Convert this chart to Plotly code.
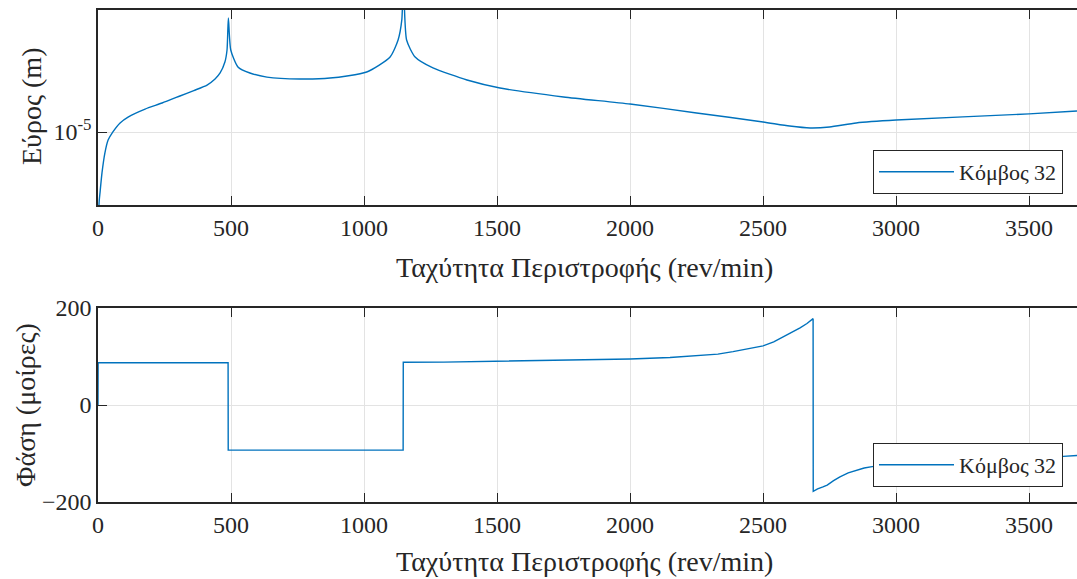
import plotly.graph_objects as go

# ---- data ----
rpm_amp = [0, 4, 7.5, 15, 26, 38, 56, 83, 113, 177, 241, 308, 360, 410, 440, 459, 477,
           485, 490, 499, 526, 571, 635, 759, 872, 1010, 1098, 1128, 1142, 1148, 1160,
           1192, 1259, 1387, 1511, 1750, 2000, 2250, 2500, 2600, 2677, 2750, 2850, 3000,
           3500, 3680]
amplitude = [2.0e-6, 4.33e-6, 4.88e-6, 6.17e-6, 7.82e-6, 9.10e-6, 1.002e-5, 1.114e-5,
             1.194e-5, 1.312e-5, 1.409e-5, 1.531e-5, 1.633e-5, 1.742e-5, 1.871e-5,
             2.009e-5, 2.286e-5, 2.636e-5, 3.846e-5, 2.636e-5, 2.158e-5, 2.009e-5,
             1.914e-5, 1.871e-5, 1.892e-5, 2.032e-5, 2.427e-5, 2.965e-5, 3.758e-5, 6.0e-5,
             2.965e-5, 2.427e-5, 2.133e-5, 1.849e-5, 1.683e-5, 1.514e-5, 1.393e-5,
             1.253e-5, 1.127e-5, 1.074e-5, 1.050e-5, 1.062e-5, 1.114e-5, 1.153e-5,
             1.239e-5, 1.282e-5]

rpm_phase = [0, 0.5, 489, 489.5, 1147, 1147.5, 1300, 1500, 1800, 2000, 2150, 2263, 2330,
             2387, 2440, 2500, 2540, 2575, 2610, 2639, 2665, 2688, 2688.5, 2705, 2725,
             2741, 2765, 2789, 2820, 2853, 2880, 2910, 3000, 3200, 3400, 3628, 3680]
phase = [0, 87, 87, -93, -93, 88, 88.5, 90, 92, 95, 98, 101.5, 105, 110, 115, 122, 130,
         140, 149, 159, 168, 178, -178, -173, -169, -165, -156, -148, -140, -134, -130,
         -127, -122, -115, -110, -106, -104]

x_ticks = [0, 500, 1000, 1500, 2000, 2500, 3000, 3500]
amp_ticks = [1e-5]
amp_ticktext = ["10<sup>-5</sup>"]
phase_ticks = [-200, 0, 200]

series_name = "Κόμβος 32"
x_title = "Ταχύτητα Περιστροφής (rev/min)"
amp_title = "Εύρος (m)"
phase_title = "Φάση (μοίρες)"

# ---- styling ----
W, H = 1077, 579
FONT = "Liberation Serif, Times New Roman, serif"
LINE_COLOR = "#0072BD"
AX_COLOR = "#262626"
GRID = "#e3e3e3"

def fx(px):
    return px / W

def fy(py):
    return 1 - py / H

fig = go.Figure()
fig.add_trace(go.Scatter(x=rpm_amp, y=amplitude, mode="lines", name=series_name,
                         line=dict(color=LINE_COLOR, width=1.4, shape="spline",
                                   smoothing=0.6),
                         xaxis="x", yaxis="y", legend="legend"))
fig.add_trace(go.Scatter(x=rpm_phase, y=phase, mode="lines", name=series_name,
                         line=dict(color=LINE_COLOR, width=1.4),
                         xaxis="x2", yaxis="y2", legend="legend2"))

common_x = dict(range=[0, 3680], tickvals=x_ticks, ticks="inside", ticklen=9,
                tickcolor=AX_COLOR, tickwidth=1, showline=True, linecolor=AX_COLOR,
                linewidth=1.5, mirror="ticks", showgrid=True, gridcolor=GRID,
                gridwidth=1, zeroline=False, automargin=False,
                tickfont=dict(family=FONT, size=24, color=AX_COLOR))
common_y = dict(ticks="inside", ticklen=9, tickcolor=AX_COLOR, tickwidth=1,
                showline=True, linecolor=AX_COLOR, linewidth=1.5, mirror=False,
                showgrid=True, gridcolor=GRID, gridwidth=1, zeroline=False,
                automargin=False, tickfont=dict(family=FONT, size=24, color=AX_COLOR))

legend_common = dict(xanchor="right", yanchor="top", bgcolor="white",
                     bordercolor=AX_COLOR, borderwidth=1, itemwidth=75,
                     font=dict(family=FONT, size=22, color=AX_COLOR))

fig.update_layout(
    width=W, height=H,
    margin=dict(l=0, r=0, t=0, b=0),
    paper_bgcolor="white", plot_bgcolor="white",
    font=dict(family=FONT, size=24, color=AX_COLOR),
    xaxis=dict(domain=[fx(98), 1.0], anchor="y", **common_x),
    yaxis=dict(domain=[fy(205), fy(10)], anchor="x", type="log",
               range=[-5.374, -4.374], tickvals=amp_ticks, ticktext=amp_ticktext,
               **common_y),
    xaxis2=dict(domain=[fx(98), 1.0], anchor="y2", **common_x),
    yaxis2=dict(domain=[fy(502), fy(308)], anchor="x2", range=[-200, 200],
                tickvals=phase_ticks, **common_y),
    legend=dict(x=fx(1063), y=fy(150), **legend_common),
    legend2=dict(x=fx(1063), y=fy(443), **legend_common),
    showlegend=True,
)

title_font = dict(family=FONT, size=28, color=AX_COLOR)
fig.add_annotation(text=x_title, xref="paper", yref="paper", x=fx(584), y=fy(267),
                   xanchor="center", yanchor="middle", showarrow=False, font=title_font)
fig.add_annotation(text=x_title, xref="paper", yref="paper", x=fx(584), y=fy(561),
                   xanchor="center", yanchor="middle", showarrow=False, font=title_font)
fig.add_annotation(text=amp_title, xref="paper", yref="paper", x=fx(31), y=fy(107),
                   xanchor="center", yanchor="middle", showarrow=False, textangle=-90,
                   font=title_font)
fig.add_annotation(text=phase_title, xref="paper", yref="paper", x=fx(25), y=fy(405),
                   xanchor="center", yanchor="middle", showarrow=False, textangle=-90,
                   font=title_font)

fig.write_html("out.html")
